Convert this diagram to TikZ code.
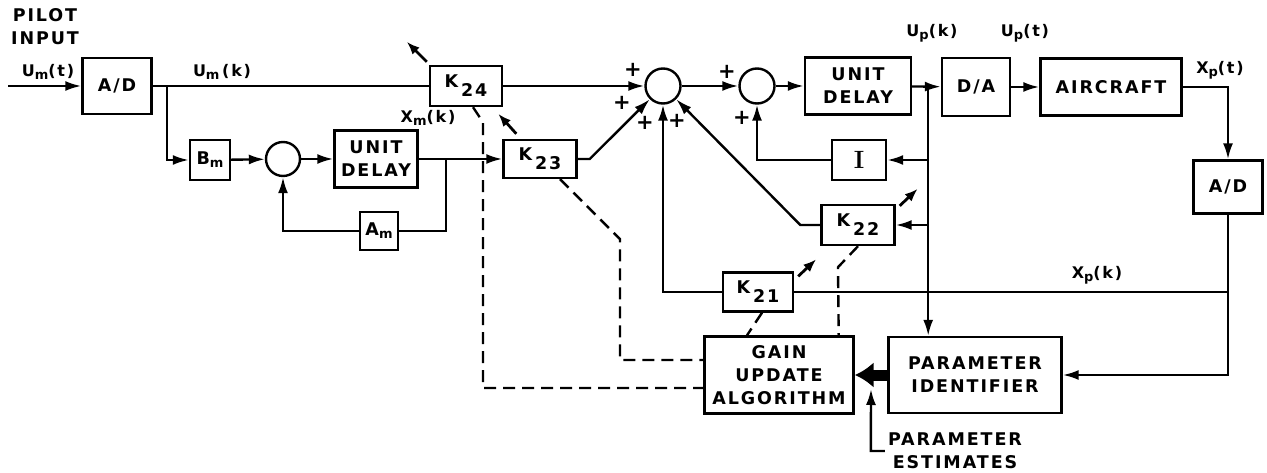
\documentclass[tikz,border=0pt]{standalone}
\usepackage{fontspec}
\setsansfont[LetterSpace=11]{DejaVu Sans}
\usetikzlibrary{arrows.meta,calc,positioning}
\newcommand{\lo}[1]{\raisebox{-9pt}{#1}}
\newcommand{\sm}[1]{\raisebox{-3pt}{\fontsize{13}{13}\selectfont #1}}

\begin{document}
\begin{tikzpicture}[x=1pt, y=-1pt,
    font=\sffamily\bfseries\fontsize{17.5}{23}\selectfont,
    line width=2.4pt,
    block/.style={draw, minimum width=70pt, minimum height=40pt, inner sep=1pt, align=center},
    sumnode/.style={draw, circle, minimum size=35pt, inner sep=0pt},
    sig/.style={inner sep=0pt, font=\sffamily\bfseries\fontsize{16}{18}\selectfont},
    plus/.style={inner sep=0pt, font=\sffamily\bfseries\fontsize{21}{21}\selectfont},
    arrow/.style={-{Latex[length=16pt,width=10pt]}},
    gainadj/.style={line width=2.8pt, -{Latex[length=13pt,width=10pt]}},
    bigarrow/.style={line width=11pt, -{Latex[length=19pt,width=26pt]}},
    dashline/.style={dash pattern=on 12pt off 7pt}
  ]
    \useasboundingbox (0,0) rectangle (1267,473);

    % model reference path
    \node[align=center, inner sep=0pt] (pilot) at (45,27) {PILOT\\INPUT};
    \coordinate (in0) at (8,86);
    \node[block, minimum width=69pt, minimum height=56pt] (ad1) at (117,86) {A/D};
    \node[block, minimum width=40pt, minimum height=40pt, inner sep=0pt] (bm) at (210,160) {B\sm{m}};
    \node[sumnode, minimum size=34pt] (sum1) at (283,159) {};
    \node[block, minimum width=83pt, minimum height=57pt] (delay1) at (376,159) {UNIT\\DELAY};
    \node[block, minimum width=38pt, minimum height=38pt, inner sep=0pt] (am) at (379,231) {A\sm{m}};

    % gains
    \node[block, minimum width=72pt] (k24) at (466,86) {K\,\lo{24}};
    \node[block, minimum width=73pt, minimum height=38pt] (k23) at (540,159) {K\,\lo{23}};
    \node[block, minimum width=54pt] (iblk) at (859,160) {{\rmfamily\bfseries\fontsize{25}{25}\selectfont I}};
    \node[block, minimum width=73pt] (k22) at (858,225) {K\,\lo{22}};
    \node[block, minimum width=70pt, minimum height=39pt] (k21) at (758,292) {K\,\lo{21}};

    % summing points
    \node[sumnode] (sum2) at (663,86) {};
    \node[sumnode] (sum3) at (757,86) {};
    \node[plus] at (633,70) {+};
    \node[plus] at (622,103) {+};
    \node[plus] at (645,123) {+};
    \node[plus] at (677,121) {+};
    \node[plus] at (727,72) {+};
    \node[plus] at (742,118) {+};

    % plant path
    \node[block, minimum width=106pt, minimum height=57pt] (delay2) at (858,86) {UNIT\\DELAY};
    \node[block, minimum width=68pt, minimum height=58pt] (da) at (976,87) {D/A};
    \node[block, minimum width=141pt, minimum height=57pt] (aircraft) at (1111,87) {AIRCRAFT};
    \node[block, minimum width=69pt, minimum height=53pt] (ad2) at (1228,187) {A/D};

    % adaptation
    \node[block, minimum width=149pt, minimum height=77pt] (gain) at (779,375) {GAIN\\UPDATE\\ALGORITHM};
    \node[block, minimum width=173pt, minimum height=76pt] (ident) at (975,375) {PARAMETER\\IDENTIFIER};
    \node[align=center, inner sep=2pt] (estimates) at (955,451) {PARAMETER\\ESTIMATES};
    \coordinate (esttip) at (871,389);

    % signal labels
    \node[sig] (umt) at (48,72) {U\sm{m}(t)};
    \node[sig] (umk) at (222,72) {U\sm{m}\,(k)};
    \node[sig] (xmk) at (428,118) {X\sm{m}(k)};
    \node[sig] (upk) at (932,33) {U\sm{p}(k)};
    \node[sig] (upt) at (1025,33) {U\sm{p}(t)};
    \node[sig] (xpt) at (1220,70) {X\sm{p}(t)};
    \node[sig] (xpk) at (1097,275) {X\sm{p}(k)};

    % junctions
    \coordinate (j1) at ($(ad1.east)+(14,0)$);
    \coordinate (j2) at ($(delay1.east)+(27,0)$);
    \coordinate (j3) at ($(delay2.east)+(16,0)$);
    \coordinate (j5) at (ad2 |- k21);

    \draw[arrow] (in0) -- (ad1);
    \draw (ad1) -- (k24);
    \draw[arrow] (j1) |- (bm);
    \draw[arrow] (bm) -- (sum1);
    \draw[arrow] (sum1) -- (delay1);
    \draw[arrow] (delay1) -- (k23);
    \draw (j2) |- (am);
    \draw[arrow] (am) -| (sum1);
    \draw[arrow] (k24) -- (sum2);
    \draw[arrow] (k23.east) -- ++(12,0) -- (sum2.225);
    \draw[arrow] (sum2) -- (sum3);
    \draw[arrow] (sum3) -- (delay2);
    \draw[arrow] (delay2) -- (da);
    \draw[arrow] (da) -- (aircraft);
    \draw[arrow] (aircraft) -| (ad2);
    \draw[arrow] (ad2) |- (ident);
    \draw (j5) -- (k21);
    \draw[arrow] (j3) -- (j3 |- ident.north);
    \draw[arrow] (j3 |- iblk) -- (iblk);
    \draw[arrow] (iblk) -| (sum3);
    \draw[arrow] (j3 |- k22) -- (k22);
    \draw[arrow] (k22.west) -- ++(-20,0) -- (sum2.-45);
    \draw[arrow] (k21) -| (sum2);
    \draw[bigarrow] (ident) -- (gain);
    \draw[arrow] (estimates.west) -- ++(-14,0) -- (esttip);

    % adjustable gains
    \draw[gainadj] ($(k24.north west)+(-2,-3)$) -- ++(-20,-20);
    \draw[gainadj] ($(k23.north west)+(14,-5)$) -- ++(-18,-20);
    \draw[gainadj] ($(k21.north east)+(4,5)$) -- ++(18,-17);
    \draw[gainadj] ($(k22.north east)+(4,2)$) -- ++(18,-17);

    % gain updates
    \draw[dashline] ([xshift=7pt]k24.south) -- ++(10,15) |- ([yshift=-13pt]gain.west);
    \draw[dashline] ([xshift=20pt]k23.south) -- ++(60,60) |- ([yshift=15pt]gain.west);
    \draw[dashline] ([xshift=4pt]k21.south) -- ([xshift=-32pt]gain.north);
    \draw[dashline] (k22.south) -- ++(-20,21) -- ([xshift=-16pt]gain.north east);
\end{tikzpicture}
\end{document}
